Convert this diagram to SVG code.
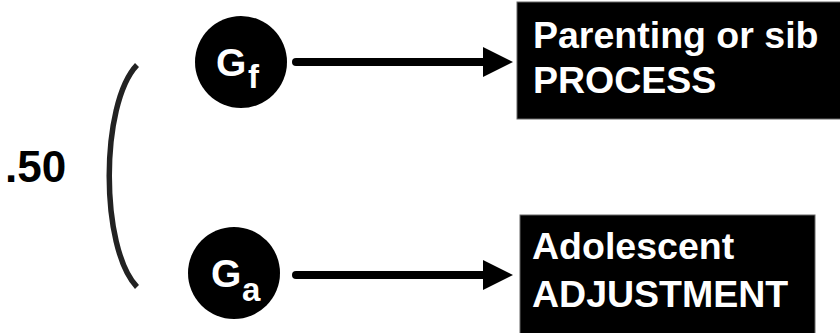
<svg xmlns="http://www.w3.org/2000/svg" width="840" height="333" viewBox="0 0 840 333">
  <style>
    .lbl { font-family: "Liberation Sans", Arial, Helvetica, sans-serif; font-weight: bold; }
    .gene { fill: #000; }
    .gtxt { fill: #fff; font-size: 39px; }
    .gsub { fill: #fff; font-size: 33px; }
    .box { fill: #000; stroke: #666; stroke-width: 1; }
    .btxt { fill: #fff; font-size: 37.5px; }
    .shaft { stroke: #000; stroke-width: 8; stroke-linecap: round; fill: none; }
    .head { fill: #000; }
    .brace { stroke: #222; stroke-width: 5.5; fill: none; stroke-linecap: butt; }
  </style>
  <rect width="840" height="333" fill="#fff"/>

  <!-- correlation between the two genetic factors -->
  <g id="correlation">
    <path class="brace" d="M137,65 C100,104 100,248 137,287"/>
    <text class="lbl" x="5" y="182" font-size="44" fill="#000">.50</text>
  </g>

  <g id="node-gf">
    <circle class="gene" cx="241" cy="62" r="46"/>
    <text class="lbl gtxt" x="216" y="76">G</text>
    <text class="lbl gsub" x="248" y="88">f</text>
  </g>

  <g id="node-ga">
    <circle class="gene" cx="234" cy="273" r="46"/>
    <text class="lbl gtxt" x="211" y="287">G</text>
    <text class="lbl gsub" x="242" y="301">a</text>
  </g>

  <g id="node-process">
    <rect class="box" x="517" y="2" width="330" height="117"/>
    <text class="lbl btxt" x="533" y="48">Parenting or sib</text>
    <text class="lbl btxt" x="533" y="93">PROCESS</text>
  </g>

  <g id="node-adjustment">
    <rect class="box" x="520" y="215" width="295" height="125"/>
    <text class="lbl btxt" x="532" y="259">Adolescent</text>
    <text class="lbl btxt" x="532" y="307">ADJUSTMENT</text>
  </g>

  <g id="connectors">
    <line class="shaft" x1="296" y1="62" x2="486" y2="62"/>
    <polygon class="head" points="483,47 513,62 483,77"/>
    <line class="shaft" x1="296" y1="275" x2="486" y2="275"/>
    <polygon class="head" points="483,260 513,275 483,290"/>
  </g>
</svg>
